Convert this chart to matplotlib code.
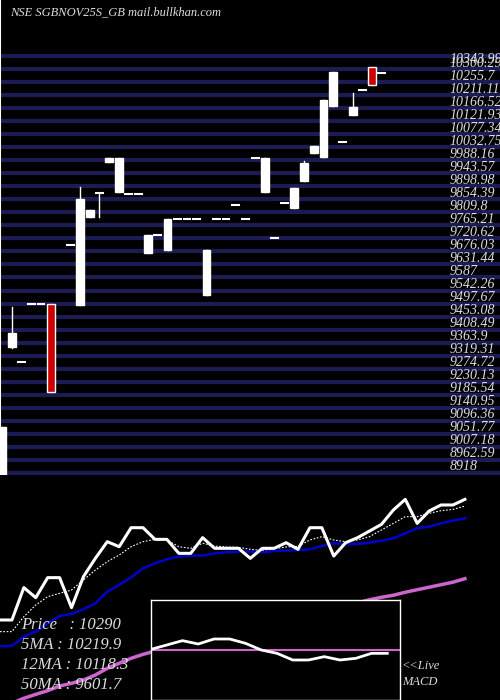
import matplotlib
matplotlib.use("Agg")
import matplotlib.pyplot as plt
import numpy as np

title = "NSE SGBNOV25S_GB mail.bullkhan.com"
# candle day index, open, high, low, close
days  = [0,1,2,3,4,5,7,8,9,10,11,12,13,14,15,16,17,18,19,20,21,22,23,24,25,26,27,28,29,30,31,32,33,34,35,36,37,38,39]
opens = [8894,9328,9277,9476,9476,9476,9677,9473,9773,9855,9961,9858,9852,9852,9650,9711,9660,9767,9767,9767,9506,9767,9767,9815,9767,9975,9858,9702,9822,9804,9897,9992,9979,10153,10030,10122,10208,10287,10266]
closes= [9055,9376,9277,9476,9476,9174,9677,9835,9797,9855,9975,9975,9852,9852,9711,9711,9767,9767,9767,9767,9660,9767,9767,9815,9767,9975,9975,9702,9822,9873,9958,10016,10174,10270,10030,10150,10208,10225,10266]
highs = [9055,9465,9277,9476,9476,9476,9677,9876,9797,9855,9975,9975,9852,9852,9711,9711,9767,9767,9767,9767,9660,9767,9767,9815,9767,9975,9975,9702,9822,9873,9965,10016,10174,10270,10030,10198,10208,10287,10266]
lows  = [8894,9325,9277,9476,9476,9174,9677,9473,9773,9773,9961,9858,9852,9852,9650,9711,9660,9767,9767,9767,9506,9767,9767,9815,9767,9975,9858,9702,9822,9804,9897,9992,9979,10153,10030,10122,10208,10225,10266]
red_idx = [5, 37]

price_labels = ["10300.29","10255.7","10211.11","10166.52","10121.93","10077.34","10032.75","9988.16","9943.57","9898.98","9854.39","9809.8","9765.21","9720.62","9676.03","9631.44","9587","9542.26","9497.67","9453.08","9408.49","9363.9","9319.31","9274.72","9230.13","9185.54","9140.95","9096.36","9051.77","9007.18","8962.59","8918"]
top_label = "10343.99"

# lower panel series
price_line = [9054,9054,9376,9276,9475,9475,9177,9485,9667,9833,9783,9972,9972,9856,9856,9717,9717,9873,9767,9767,9767,9667,9767,9767,9823,9757,9972,9972,9690,9823,9873,9939,10005,10148,10254,10015,10138,10198,10198,10254]
ma5 = [8938,8938,9087,9203,9286,9319,9352,9452,9551,9634,9700,9783,9833,9856,9850,9783,9767,9817,9790,9780,9777,9757,9747,9763,9780,9787,9850,9883,9850,9833,9850,9883,9949,10015,10082,10082,10115,10141,10154,10187]
ma12 = [8795,8795,8888,8938,9021,9094,9114,9160,9220,9336,9402,9478,9568,9618,9658,9684,9694,9694,9717,9727,9734,9734,9727,9740,9744,9750,9757,9790,9817,9810,9810,9823,9843,9866,9916,9966,9983,10015,10042,10065]
ma50 = [8225,8225,8275,8314,8351,8397,8424,8457,8507,8573,8623,8673,8712,8745,8780,8810,8840,8870,8900,8930,8960,8990,9020,9050,9075,9100,9125,9150,9175,9200,9225,9255,9280,9300,9330,9355,9380,9405,9430,9465]
macd = [0.2,1.5,2.8,1.8,3.3,3.3,2.0,0,-1,-3,-3,-2,-3,-2.5,-1,-1]
macd_signal = 0.0

fig = plt.figure(figsize=(5, 7), dpi=100, facecolor="black")
serif = "Liberation Serif"
grid_c = "#1c1c55"

ax = fig.add_axes([0, 225/700, 1, 475/700])
ax.set_facecolor("black")
ax.set_xlim(-0.205, 51.13)
ax.set_ylim(8890.4, 10515.9)
ax.axis("off")
step = 44.59
for s in price_labels:
    p = float(s)
    ax.axhline(p - 0.46*step, color=grid_c, lw=3, zorder=1)
    ax.text(45.95, p, s, color="#dddddd", fontsize=10, family=serif,
            style="italic", va="center", ha="left", zorder=3, clip_on=False)
ax.axhline(float(price_labels[0]) + 0.54*step, color=grid_c, lw=3, zorder=1)
ax.text(45.95, float(top_label) - 30, top_label, color="#dddddd", fontsize=10,
        family=serif, style="italic", va="center", ha="left", zorder=3)
ax.plot([-0.2, -0.2], [8890.4, 10515.9], color="white", lw=1.5, zorder=2)

w = 0.8
for i, (d, o, h, l, c) in enumerate(zip(days, opens, highs, lows, closes)):
    col = "#cc0000" if i in red_idx else "white"
    ax.plot([d, d], [l, h], color="white", lw=1, zorder=2)
    lo, hi = min(o, c), max(o, c)
    if hi - lo < 5:
        ax.plot([d - 0.35, d + 0.35], [lo, lo], color="white", lw=1.5, zorder=3)
    else:
        ax.bar(d, hi - lo, bottom=lo, width=w, color=col, edgecolor="white",
               linewidth=1, zorder=3)

fig.text(0.02, 1 - 12/700, title, color="#dddddd", fontsize=9, family=serif,
         style="italic", va="center", ha="left")

bx = fig.add_axes([0, 0, 1, 210/700])
bx.set_facecolor("black")
bx.axis("off")
xs = np.arange(len(price_line))
bx.set_xlim(0, 500/11.92)
bx.set_ylim(8258, 10347)
bx.plot(xs, ma50, color="#cc66cc", lw=2.5)
bx.plot(xs, ma12, color="#0000cc", lw=1.8)
bx.plot(xs, ma5, color="white", lw=0.8, ls=(0, (1.5, 1.5)))
bx.plot(xs, price_line, color="white", lw=2.2)

info = [("Price   : 10290", 625), ("5MA : 10219.9", 645), ("12MA : 10118.3", 665), ("50MA : 9601.7", 685)]
for t, y in info:
    fig.text(21/500, 1 - y/700, t, color="#dddddd", fontsize=12, family=serif,
             style="italic", va="center", ha="left")
fig.text(402/500, 1 - 666/700, "<<Live", color="#dddddd", fontsize=9, family=serif, style="italic", va="center")
fig.text(402/500, 1 - 682/700, "MACD", color="#dddddd", fontsize=9, family=serif, style="italic", va="center")

mx = fig.add_axes([151/500, 0, 249/500, 100/700])
mx.set_facecolor("black")
for s in mx.spines.values():
    s.set_color("white"); s.set_linewidth(1)
mx.set_xticks([]); mx.set_yticks([])
mx.set_ylim(-15, 15)
mx.set_xlim(0, 24.5)
mx.axhline(macd_signal, color="#cc66cc", lw=1.5)
mx.plot(np.arange(len(macd)) * 1.55, macd, color="white", lw=2)

fig.savefig("out.png", dpi=100, facecolor="black")
